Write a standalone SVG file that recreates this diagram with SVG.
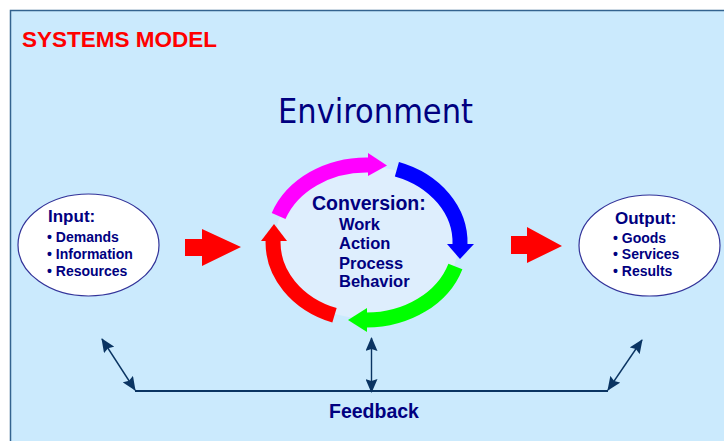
<svg xmlns="http://www.w3.org/2000/svg" width="724" height="441" viewBox="0 0 724 441">
<defs>
<style>
.t{font-family:"Liberation Sans",Arial,sans-serif;font-weight:bold;fill:#000080}
.ring{fill:none;stroke-width:15}
.fb{stroke:#0a3462;fill:none}
.bubble{fill:#ffffff;stroke:#333399;stroke-width:1.2}
</style>
<marker id="ah" viewBox="0 0 14 12" refX="13" refY="6" markerWidth="14" markerHeight="12" markerUnits="userSpaceOnUse" orient="auto-start-reverse">
<path d="M0,0 L14,6 L0,12 L2,6 Z" fill="#0a3462"/>
</marker>
</defs>
<rect x="0" y="0" width="724" height="441" fill="#ffffff"/>
<rect x="10.5" y="10.5" width="730" height="450" fill="#cbeafd" stroke="#33638f" stroke-width="1.5"/>
<text x="22" y="47" class="t" textLength="195" lengthAdjust="spacingAndGlyphs" style="fill:#ff0000;font-size:22.5px">SYSTEMS MODEL</text>
<text x="278" y="123" textLength="195" lengthAdjust="spacingAndGlyphs" style="font-family:'DejaVu Sans',sans-serif;font-size:34px;fill:#000080">Environment</text>

<g id="conversion">
<ellipse cx="366.5" cy="242.5" rx="92" ry="76" fill="#deeefd"/>
<path class="ring" stroke="#ff00ff" d="M278.6,216 A93.5,77.5 0 0 1 368.1,165"/>
<polygon fill="#ff00ff" points="368,153 387,165.5 368,176"/>
<path class="ring" stroke="#0000ff" d="M396.9,169.2 A93.5,77.5 0 0 1 460,244.5"/>
<polygon fill="#0000ff" points="447,244 474,244 460,259"/>
<path class="ring" stroke="#00ff00" d="M455.4,266.4 A93.5,77.5 0 0 1 366.5,320"/>
<polygon fill="#00ff00" points="367,308 367,332 348,320"/>
<path class="ring" stroke="#ff0000" d="M334.5,315.3 A93.5,77.5 0 0 1 273.1,240"/>
<polygon fill="#ff0000" points="261,241 287,241 274,224"/>
<text x="312" y="210" class="t" style="font-size:19.5px">Conversion:</text>
<text class="t" style="font-size:16.5px"><tspan x="339" y="230">Work</tspan><tspan x="339" y="249">Action</tspan><tspan x="339" y="269">Process</tspan><tspan x="339" y="287">Behavior</tspan></text>
</g>

<g id="input">
<ellipse class="bubble" cx="88.5" cy="245" rx="70.5" ry="51"/>
<text x="48" y="222" class="t" style="font-size:17px">Input:</text>
<text class="t" style="font-size:14px"><tspan x="47" y="242">• Demands</tspan><tspan x="47" y="259">• Information</tspan><tspan x="47" y="276">• Resources</tspan></text>
</g>

<g id="output">
<ellipse class="bubble" cx="649.5" cy="245.5" rx="70.5" ry="50.5"/>
<text x="615" y="224" class="t" style="font-size:17px">Output:</text>
<text class="t" style="font-size:14px"><tspan x="613" y="243">• Goods</tspan><tspan x="613" y="259">• Services</tspan><tspan x="613" y="276">• Results</tspan></text>
</g>

<g id="arrows">
<polygon fill="#ff0000" points="185,239 202,239 202,229 241,247 202,266 202,256 185,256"/>
<polygon fill="#ff0000" points="511,236 527,236 527,227 562,246 527,263 527,254 511,254"/>
</g>

<g id="feedback">
<path class="fb" stroke-width="2" d="M135,391 H608"/>
<path class="fb" stroke-width="1.4" marker-start="url(#ah)" marker-end="url(#ah)" d="M102,339 L135,390"/>
<path class="fb" stroke-width="1.4" marker-start="url(#ah)" marker-end="url(#ah)" d="M371.5,338 L371.5,392"/>
<path class="fb" stroke-width="1.4" marker-start="url(#ah)" marker-end="url(#ah)" d="M608,390 L642,340"/>
<text x="329" y="418" class="t" style="font-size:19.5px">Feedback</text>
</g>
</svg>
